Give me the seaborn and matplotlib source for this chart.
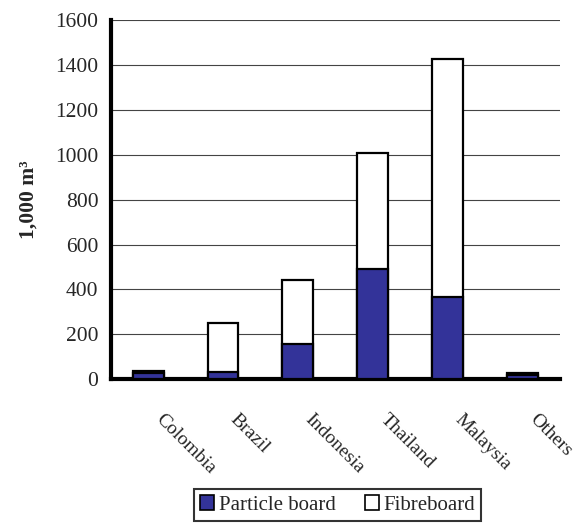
import pandas as pd
import matplotlib.pyplot as plt
import matplotlib.transforms as mtransforms
import seaborn as sns
from matplotlib.patches import Patch

countries = ['Colombia', 'Brazil', 'Indonesia', 'Thailand', 'Malaysia', 'Others']
particle_board = [30, 33, 158, 493, 367, 18]
fibreboard = [8, 216, 285, 514, 1060, 9]

df = pd.DataFrame({'country': countries, 'particle': particle_board, 'fibre': fibreboard})
df['total'] = df['particle'] + df['fibre']

sns.set_style('white')
plt.rcParams['font.family'] = ['Liberation Serif', 'DejaVu Serif']

fig = plt.figure(figsize=(5.77, 5.29), dpi=100)
ax = fig.add_axes([0.192, 0.283, 0.778, 0.679])

blue = '#333399'
sns.barplot(data=df, x='country', y='total', color='white', edgecolor='black',
            linewidth=1.6, width=0.41, saturation=1, ax=ax, zorder=3)
sns.barplot(data=df, x='country', y='particle', color=blue, edgecolor='black',
            linewidth=1.6, width=0.41, saturation=1, ax=ax, zorder=4)

ax.set_xlim(-0.5, len(countries) - 0.5)
ax.set_ylim(0, 1600)
ax.set_yticks(range(0, 1601, 200))
ax.yaxis.grid(True, color='#444444', linewidth=0.8, zorder=0)
ax.set_axisbelow(True)

for s in ['top', 'right']:
    ax.spines[s].set_visible(False)
for s in ['left', 'bottom']:
    ax.spines[s].set_linewidth(3)
    ax.spines[s].set_color('black')

fs = 15.5
ax.set_xticks(range(len(countries)))
ax.set_xticklabels(countries, rotation=-45, ha='left', va='top', rotation_mode='anchor')
ax.set_xticks([i - 0.5 for i in range(len(countries) + 1)], minor=True)
ax.tick_params(axis='x', which='major', length=0, pad=23, labelsize=14)
ax.tick_params(axis='x', which='minor', length=6, width=3, direction='out', color='black')
ax.tick_params(axis='y', length=6, width=3, direction='out', color='black', labelsize=fs, pad=3)
shift = mtransforms.ScaledTranslation(0.16, 0, fig.dpi_scale_trans)
for lbl in ax.get_xticklabels():
    lbl.set_transform(lbl.get_transform() + shift)

ax.set_xlabel('')
ax.set_ylabel('1,000 m³', fontsize=fs, fontweight='bold', labelpad=12)

handles = [Patch(facecolor=blue, edgecolor='black', linewidth=1.2),
           Patch(facecolor='white', edgecolor='black', linewidth=1.2)]
leg = fig.legend(handles, ['Particle board', 'Fibreboard'], ncol=2, fontsize=15,
                 loc='lower center', bbox_to_anchor=(0.585, -0.005), frameon=True,
                 fancybox=False, handlelength=0.7, handleheight=0.7,
                 handletextpad=0.2, columnspacing=1.4, borderpad=0.3)
leg.get_frame().set_edgecolor('black')
leg.get_frame().set_linewidth(1.5)

fig.savefig('out.png', dpi=100)
